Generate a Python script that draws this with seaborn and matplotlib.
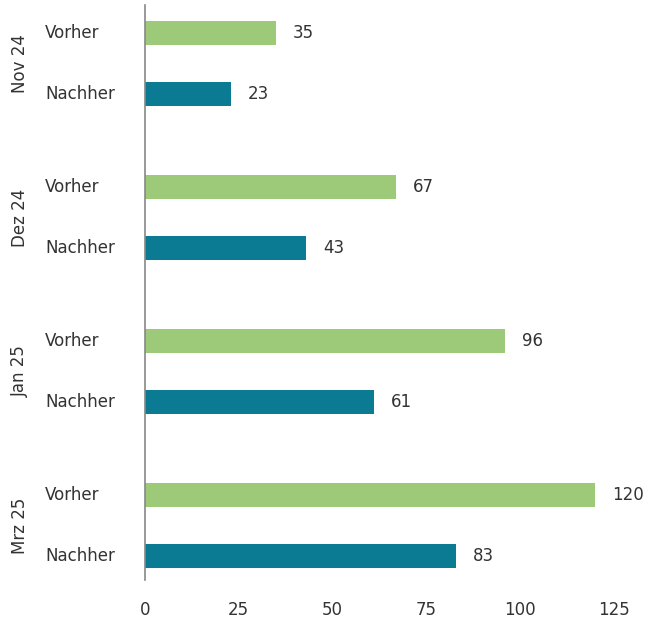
import matplotlib
matplotlib.use("Agg")
import matplotlib.pyplot as plt
import matplotlib.transforms as mtrans
import seaborn as sns
import pandas as pd

months = ["Nov 24", "Dez 24", "Jan 25", "Mrz 25"]
phases = ["Vorher", "Nachher"]
vorher = [35, 67, 96, 120]
nachher = [23, 43, 61, 83]
x_ticks = [0, 25, 50, 75, 100, 125]

GREEN = "#9DCA78"
TEAL = "#0B7B93"
TEXT = "#333333"

group_step = 2.525
rows = []
for i, m in enumerate(months):
    rows.append({"month": m, "phase": "Vorher", "value": vorher[i], "pos": i * group_step})
    rows.append({"month": m, "phase": "Nachher", "value": nachher[i], "pos": i * group_step + 1})
df = pd.DataFrame(rows)

sns.set_theme(style="white")
plt.rcParams["font.family"] = ["DejaVu Sans"]

fig = plt.figure(figsize=(6.48, 6.22), dpi=100)
W, H = 648, 622
left, right = 145, 632.5
top, bottom = 5, 580
ax = fig.add_axes([left / W, 1 - bottom / H, (right - left) / W, (bottom - top) / H])

sns.barplot(data=df, x="value", y="pos", hue="phase", orient="h", native_scale=True,
            palette={"Vorher": GREEN, "Nachher": TEAL}, width=0.40, dodge=False,
            legend=False, ax=ax, saturation=1, linewidth=0)

ax.set_xlim(0, 130)
ypx0, ypx1 = 33, 556
ymax_pos = df["pos"].max()
scale = (ypx1 - ypx0) / ymax_pos
ax.set_ylim(ymax_pos + (bottom - ypx1) / scale, -(ypx0 - top) / scale)

for cont in ax.containers:
    ax.bar_label(cont, labels=[f"{int(v)}" for v in cont.datavalues], padding=12,
                 fontsize=12, color=TEXT)

ax.set_xticks(x_ticks)
ax.set_xticklabels([str(t) for t in x_ticks], fontsize=12, color=TEXT)
ax.tick_params(axis="x", length=0, pad=15)
ax.set_yticks([])
ax.set_xlabel("")
ax.set_ylabel("")

for s in ["top", "right", "bottom"]:
    ax.spines[s].set_visible(False)
ax.spines["left"].set_color("#888888")
ax.spines["left"].set_linewidth(1.2)

tr = mtrans.blended_transform_factory(fig.transFigure, ax.transData)
for _, r in df.iterrows():
    fig.text(45 / W, r["pos"], r["phase"], transform=tr, ha="left", va="center",
             fontsize=12, color=TEXT)
for i, m in enumerate(months):
    fig.text(20 / W, i * group_step + 0.5, m, transform=tr, ha="center", va="center",
             rotation=90, fontsize=12, color=TEXT)

fig.savefig("out.png", dpi=100)
